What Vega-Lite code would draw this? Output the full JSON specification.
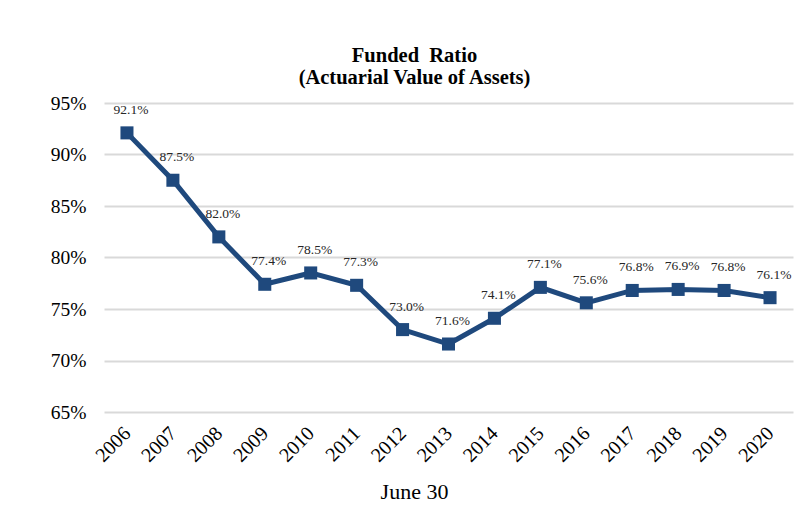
{
  "$schema": "https://vega.github.io/schema/vega-lite/v6.json",
  "autosize": "none",
  "width": 689,
  "height": 309,
  "padding": {"left": 104, "top": 103, "right": 19, "bottom": 98},
  "background": "white",
  "title": {
    "text": "Funded\u00a0\u00a0Ratio",
    "subtitle": "(Actuarial Value of Assets)",
    "font": "Liberation Serif",
    "fontSize": 20.5,
    "fontWeight": "bold",
    "color": "black",
    "subtitleFont": "Liberation Serif",
    "subtitleFontSize": 20.5,
    "subtitleFontWeight": "bold",
    "subtitleColor": "black",
    "subtitlePadding": 1,
    "anchor": "middle",
    "dx": -34,
    "offset": 5
  },
  "data": {
    "values": [
      {"year": "2006", "ratio": 0.921},
      {"year": "2007", "ratio": 0.875},
      {"year": "2008", "ratio": 0.820},
      {"year": "2009", "ratio": 0.774},
      {"year": "2010", "ratio": 0.785},
      {"year": "2011", "ratio": 0.773},
      {"year": "2012", "ratio": 0.730},
      {"year": "2013", "ratio": 0.716},
      {"year": "2014", "ratio": 0.741},
      {"year": "2015", "ratio": 0.771},
      {"year": "2016", "ratio": 0.756},
      {"year": "2017", "ratio": 0.768},
      {"year": "2018", "ratio": 0.769},
      {"year": "2019", "ratio": 0.768},
      {"year": "2020", "ratio": 0.761}
    ]
  },
  "encoding": {
    "x": {
      "field": "year",
      "type": "ordinal",
      "scale": {"type": "point", "padding": 0.5},
      "axis": {
        "title": "June 30",
        "titleFont": "Liberation Serif",
        "titleFontSize": 22,
        "titleFontWeight": "normal",
        "titleColor": "black",
        "titleX": 310,
        "titlePadding": 16,
        "labelAngle": -45,
        "labelAlign": "right",
        "labelBaseline": "middle",
        "labelFont": "Liberation Serif",
        "labelFontSize": 20,
        "labelColor": "black",
        "labelPadding": 18,
        "ticks": false,
        "domain": false,
        "grid": false
      }
    },
    "y": {
      "field": "ratio",
      "type": "quantitative",
      "scale": {"domain": [0.65, 0.95], "nice": false, "zero": false},
      "axis": {
        "title": null,
        "values": [0.65, 0.70, 0.75, 0.80, 0.85, 0.90, 0.95],
        "format": ".0%",
        "labelFont": "Liberation Serif",
        "labelFontSize": 19.5,
        "labelColor": "black",
        "labelPadding": 18,
        "ticks": false,
        "domain": false,
        "grid": true,
        "gridColor": "#d9d9d9",
        "gridWidth": 2
      }
    }
  },
  "layer": [
    {
      "mark": {"type": "line", "color": "#1F497D", "strokeWidth": 5}
    },
    {
      "mark": {"type": "point", "shape": "square", "filled": true, "opacity": 1, "color": "#1F497D", "size": 170}
    },
    {
      "mark": {"type": "text", "font": "Liberation Serif", "fontSize": 13.5, "color": "#262626", "dy": -19, "dx": 4, "baseline": "alphabetic"},
      "encoding": {
        "text": {"field": "ratio", "type": "quantitative", "format": ".1%"}
      }
    }
  ],
  "config": {"view": {"stroke": null}}
}
